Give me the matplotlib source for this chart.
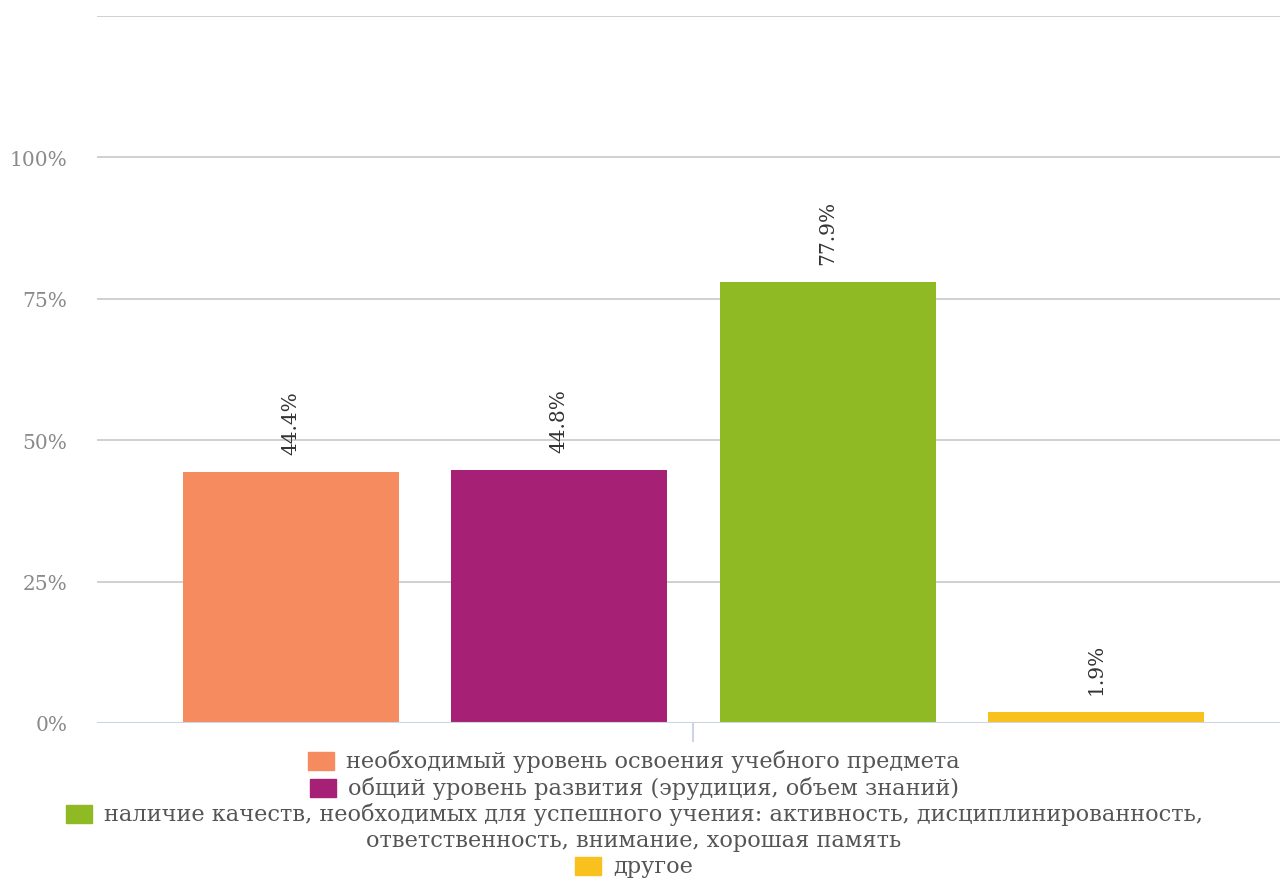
import matplotlib
matplotlib.use("Agg")
import matplotlib.pyplot as plt
from matplotlib.patches import Rectangle

# data
categories = [
    "необходимый уровень освоения учебного предмета",
    "общий уровень развития (эрудиция, объем знаний)",
    "наличие качеств, необходимых для успешного учения: активность, дисциплинированность,\nответственность, внимание, хорошая память",
    "другое",
]
values = [44.4, 44.8, 77.9, 1.9]
colors = ["#f68b5f", "#a62175", "#8fba23", "#f8c11d"]
yticks = [0, 25, 50, 75, 100, 125]
ytick_labels = ["0%", "25%", "50%", "75%", "100%", ""]

FONT = "DejaVu Serif"
W, H = 1280, 879
fig = plt.figure(figsize=(W / 100, H / 100), dpi=100)
ax = fig.add_axes([97 / W, (H - 724) / H, (1285 - 97) / W, (724 - 17) / H])

x = range(len(values))
ax.bar(x, values, width=0.805, color=colors, zorder=3)
ax.set_xlim(-0.723, 3.705)
ax.set_ylim(0, 125)

for i, v in enumerate(values):
    ax.annotate(f"{v}%", (i, v), xytext=(0, 18), textcoords="offset pixels",
                rotation=90, ha="center", va="bottom", fontsize=14.5,
                family=FONT, color="#333333")

ax.set_yticks(yticks)
ax.set_yticklabels(ytick_labels, family=FONT, fontsize=14.5, color="#8a8a8a")
ax.tick_params(axis="y", length=0, pad=21.5)
ax.set_xticks([])
ax.grid(axis="y", color="#c8c8c8", linewidth=1.2, zorder=0)
for s in ax.spines.values():
    s.set_visible(False)
ax.axhline(0, color="#ccd6e3", linewidth=1.5, zorder=4)
ax.plot([1.5, 1.5], [0, -3.2], color="#ccd6e3", linewidth=1.5, clip_on=False)

# legend, one entry per line, centred
LFS = 16.2
line_y = [762, 789, 815, 867]
cx = 634
fig.canvas.draw()
r = fig.canvas.get_renderer()
for lab, col, ly in zip(categories, colors, line_y):
    lines = lab.split("\n")
    first = fig.text(0, 0, lines[0], fontsize=LFS, family=FONT, color="#555555",
                     va="center", ha="left")
    bb = first.get_window_extent(renderer=r)
    sq = 26
    total = sq + 12 + bb.width
    left = cx - total / 2
    first.set_position(((left + sq + 12) / W, (H - ly) / H))
    fig.patches.append(Rectangle((left / W, (H - ly - 9) / H), sq / W, 18 / H,
                                 transform=fig.transFigure, color=col, figure=fig))
    for k, extra in enumerate(lines[1:], 1):
        fig.text(cx / W, (H - ly - 26 * k) / H, extra, fontsize=LFS, family=FONT,
                 color="#555555", va="center", ha="center")

fig.savefig("out.png", dpi=100)
